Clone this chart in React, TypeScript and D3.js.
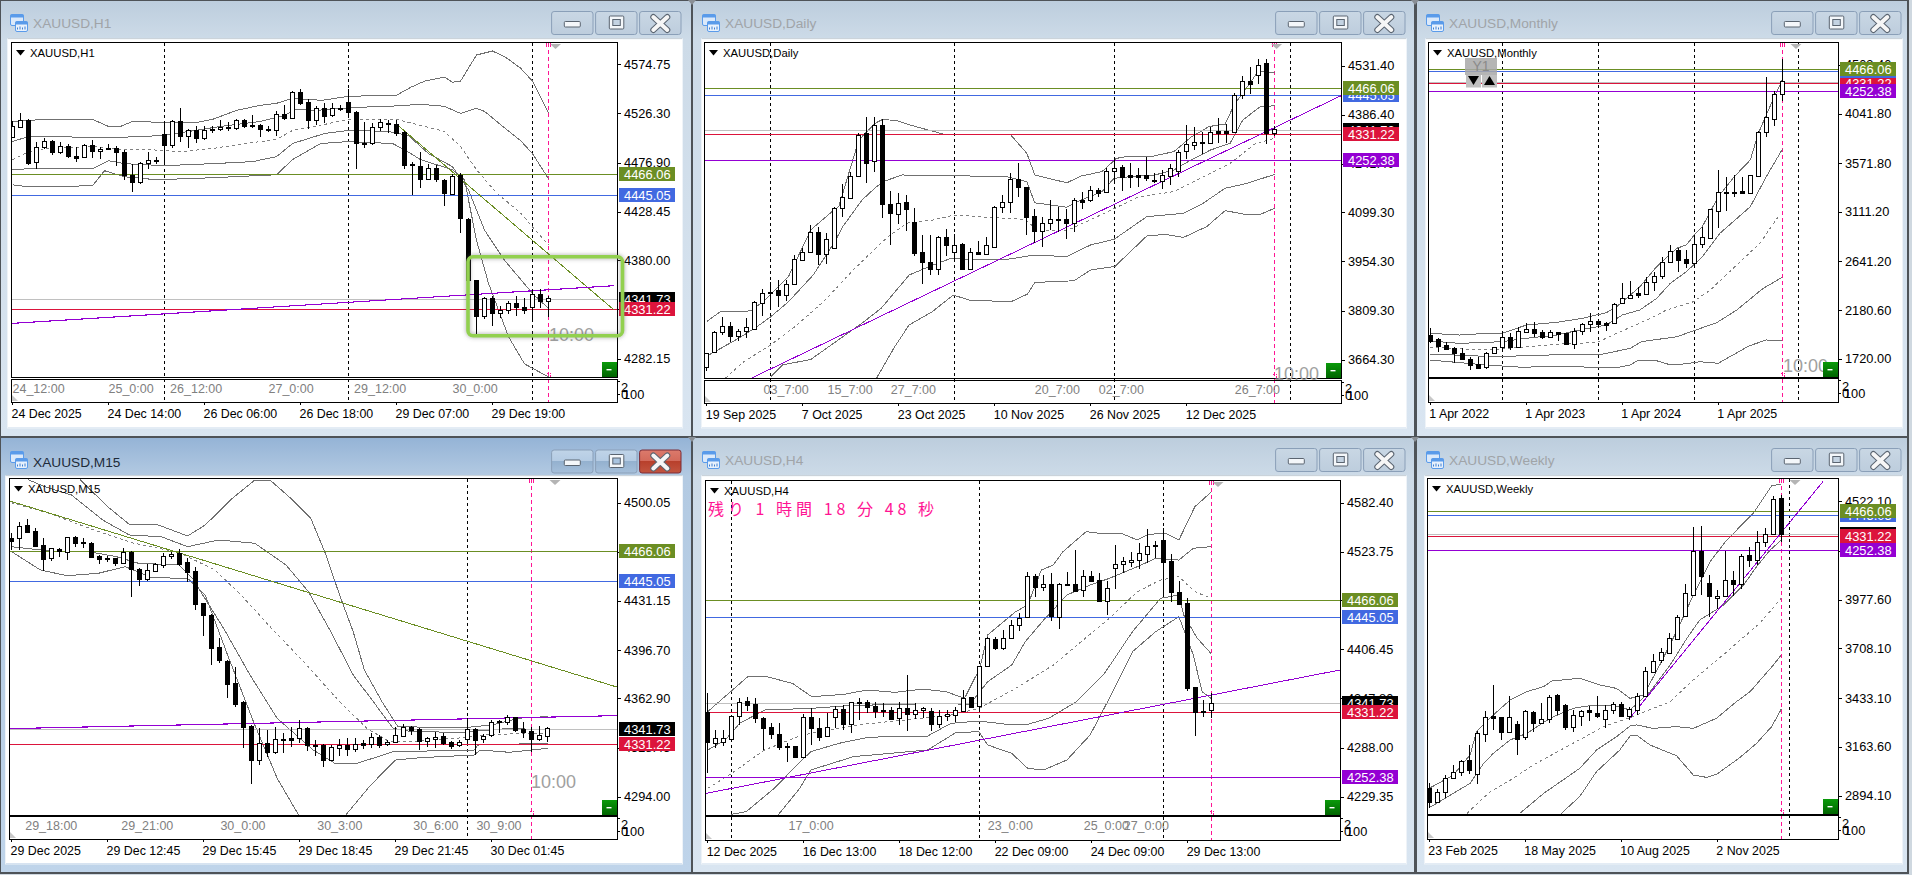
import React from "react";
import * as d3 from "d3";

type Candle = [number, number, number, number]; // open, high, low, close
type Pt = [number, number]; // bar index, price

// ---------- levels ----------
const levelOlive = 4466.06;
const levelBlue = 4445.05;
const levelGray = 4341.73;
const levelRed = 4331.22;
const levelPurple = 4252.38;

// ---------- H1 ----------
const h1Candles: Candle[] = [
[4503,4518,4503,4513],[4512,4526,4512,4519],[4519,4520,4475,4477],[4478,4498,4471,4493],[4493,4502,4491,4499],[4499,4500,4485,4488],[4488,4498,4486,4494],[4494,4495.5,4482,4484],[4484,4493,4478,4482],[4483,4496,4482,4495],
[4495,4500,4482,4489],[4489,4493,4481,4491],[4492,4495.5,4490,4491],[4492,4493.5,4474,4488],[4488,4490,4460,4465],[4465,4476,4448,4458],[4458,4478,4456,4477],[4477,4488,4471,4480],[4480,4483,4476,4479],[4505,4518,4477,4494.5],
[4494.5,4519,4492,4518],[4518,4531,4498,4503.5],[4503.5,4510,4492,4509],[4509.5,4513,4497,4502],[4502,4513,4500,4509],[4510,4513,4506,4509],[4510,4519,4508,4512],[4512,4517,4508,4511],[4511,4520,4509,4519],[4519,4520,4511,4513],
[4514,4524,4511,4513],[4514,4515,4503,4510],[4510,4513,4507,4509],[4509,4528,4504,4525],[4525,4534,4519,4521],[4521,4548,4520,4547],[4547,4550,4534,4536],[4537,4540,4510,4519],[4519,4533,4514,4531],[4531,4536,4516,4523],
[4524,4536,4522,4531],[4531.5,4534,4528,4531],[4537,4550,4523,4527],[4527,4528,4471,4497],[4497,4517,4492,4496],[4497,4516,4495,4512],[4512,4520,4508,4517],[4516,4519,4506,4515.5],[4515,4519,4504,4506],[4507,4508,4471,4475],
[4475.5,4478,4445,4474.5],[4474,4488,4451.5,4461],[4461,4476,4460,4472],[4472,4475,4458,4461],[4460,4461,4434,4446.5],[4446,4466,4445,4464],[4465,4467,4407,4422],[4421,4422,4360,4360],[4360,4360,4306,4325],[4325,4343,4322,4342],
[4342,4344,4315,4328],[4328,4335,4323,4331],[4331,4339,4327,4337],[4337,4344,4325,4334],[4334,4342,4327,4331],[4334,4350,4320,4346],[4346,4351,4333,4339],[4339,4344,4324,4342],
];
const h1Upper2: Pt[] = [[0,4518],[4,4520],[10,4520],[12,4513],[13.5,4513],[15,4518],[19,4517],[23,4517],[25,4520],[28,4529],[31,4534],[33,4536],[35,4541],[36.4,4540],[38.7,4539],[42,4543],[48,4544],[49.8,4552],[51.5,4558],[54,4562],[55,4557],[56,4558],[58,4584],[60,4588],[61.6,4582],[63.5,4571],[65,4558],[67,4526]];
const h1Upper1: Pt[] = [[0,4498],[2,4503],[13,4502],[19,4504],[22,4508],[26,4513],[31,4518],[34,4524],[35.5,4530],[38,4529],[43,4532],[47,4533],[51,4535],[54,4533],[56,4526],[58,4531],[59,4528],[61.6,4511],[63.5,4499],[65,4486],[67,4461]];
const h1Mid: Pt[] = [[0,4480],[1.5,4486],[4,4491],[10,4493],[13.5,4490],[17,4490],[21,4488],[25,4491],[29,4496],[33,4500],[35,4509],[39,4515],[42,4520],[48,4520],[51,4514],[54,4508],[56,4493],[58,4470],[60.5,4447],[63.5,4427],[67,4395]];
const h1Lower1: Pt[] = [[0,4470],[2,4471],[10,4471],[12,4479],[14,4476],[19,4474],[25,4476],[30,4478],[33,4483],[35,4496],[39,4506],[42,4509],[47,4508],[49.5,4504],[52,4486],[55,4473],[57,4450],[59,4410],[61.5,4380],[65,4347],[67,4332]];
const h1Lower2: Pt[] = [[0,4455],[2,4453],[10,4454],[11.5,4469],[14,4463],[18,4460],[25,4462],[33,4465],[35,4480],[38.5,4496],[42,4498],[47.5,4496],[49,4490],[51,4480],[55,4470],[56.5,4460],[58,4400],[59.5,4357],[62,4304],[64,4277],[67,4264]];
const h1Ticks = ["4574.75","4526.30","4476.90","4428.45","4380.00","4331.55","4282.15"];
const h1TimeLabels = ["24 Dec 2025","24 Dec 14:00","26 Dec 06:00","26 Dec 18:00","29 Dec 07:00","29 Dec 19:00"];
const h1SubLabels: [string, number][] = [["24_12:00",0],["25_0:00",12],["26_12:00",19.7],["27_0:00",32],["29_12:00",42.7],["30_0:00",55]];

// ---------- Daily ----------
const d1Candles: Candle[] = [
[3644,3685,3632,3685],[3688,3750,3685,3747],[3747,3791,3737,3765],[3765,3776,3716,3734],[3735,3754,3720,3750],[3750,3786,3727,3762],[3755,3837,3754,3835],[3832,3872,3793,3860],[3860,3894,3821,3865],[3869,3899,3819,3855],
[3855,3899,3837,3887],[3887,3973,3885,3960],[3958,3993,3956,3983],[3983,4062,3982,4042],[4040,4057,3944,3976],[3976,4037,3947,4019],[3995,4116,3993,4111],[4111,4182,4084,4143],[4141,4219,4139,4207],[4207,4332,4206,4327],
[4332,4381,4186,4245],[4251,4381,4219,4355],[4355,4373,4081,4124],[4124,4162,4003,4098],[4095,4155,4065,4125],[4129,4150,4044,4110],[4070,4111,3970,3980],[3983,4032,3887,3953],[3951,4032,3914,3931],[3933,4029,3914,4025],
[4025,4049,3970,4003],[3983,4035,3956,4002],[4005,4007,3931,3933],[3933,3993,3931,3981],[3983,4015,3973,3976],[3976,4027,3973,4002],[3998,4118,3996,4116],[4116,4150,4096,4128],[4128,4214,4096,4196],[4196,4245,4145,4173],
[4173,4173,4032,4086],[4088,4108,4007,4045],[4045,4086,3998,4068],[4068,4135,4047,4078],[4079,4114,4040,4077],[4078,4108,4020,4066],[4068,4140,4042,4135],[4134,4160,4108,4130],[4134,4177,4130,4164],[4165,4170,4143,4155],
[4158,4229,4155,4220],[4222,4258,4184,4231],[4232,4237,4162,4204],[4208,4243,4170,4204],[4209,4229,4173,4204],[4208,4263,4192,4199],[4194,4216,4184,4190],[4190,4224,4169,4209],[4207,4241,4180,4229],[4221,4283,4204,4278],
[4281,4356,4256,4299],[4298,4350,4283,4305],[4306,4337,4271,4302],[4304,4350,4300,4337],[4338,4376,4304,4332],[4338,4359,4304,4334],[4337,4450,4335,4444],[4445,4501,4432,4485],[4485,4527,4448,4477],[4505,4550,4477,4532],
[4539,4550,4300,4332],[4334,4353,4324,4345],
];
const d1Upper2: Pt[] = [[0,3777],[1.7,3806],[5.5,3808],[7,3835],[9,3880],[10.2,3909],[11.3,3963],[13,4047],[15.4,4096],[16.5,4116],[19,4312],[21,4361],[22,4373],[23.8,4369],[25.5,4356],[27.6,4342],[30,4327],[38,4327],[40,4273],[41,4209],[45,4186],[46.8,4206],[49.4,4219],[51.2,4258],[52.9,4265],[55.5,4263],[58.4,4278],[60.5,4320],[62.8,4352],[64.8,4359],[66,4420],[67,4450],[68.9,4514],[71,4511]];
const d1Upper1: Pt[] = [[0,3675],[1.4,3693],[4.3,3732],[6,3757],[8,3791],[10.2,3835],[13.3,3914],[16,4012],[17,4057],[19.4,4135],[21,4170],[22,4189],[24.4,4209],[30.5,4207],[37.5,4204],[40,4189],[41,4127],[45,4114],[46.8,4135],[49.4,4160],[50.9,4199],[52.9,4204],[56,4209],[58.4,4224],[60.5,4253],[63,4283],[65.4,4302],[67,4371],[69.2,4411],[71,4413]];
const d1Mid: Pt[] = [[2.3,3609],[4.6,3658],[8,3708],[11.3,3767],[14.8,3840],[18.3,3929],[22.4,4022],[25,4067],[28.2,4076],[31,4091],[35.2,4084],[39.8,4078],[41.3,4047],[45,4045],[47.4,4071],[50.6,4106],[53.8,4143],[58.4,4160],[61.3,4194],[65.4,4243],[68.6,4302],[71,4317]];
const d1Lower1: Pt[] = [[8,3614],[9.5,3649],[13,3665],[19.4,3772],[21.8,3816],[25.3,3914],[27.6,3937],[30.5,3963],[33.4,3960],[37.5,3960],[41,3973],[45,3968],[48,4003],[50.9,4019],[55,4086],[59.6,4096],[62,4125],[64.8,4170],[67.5,4184],[71,4211]];
const d1Lower2: Pt[] = [[21.2,3609],[23.5,3703],[25.3,3767],[28.2,3806],[30.8,3855],[32.8,3840],[38,3835],[40.1,3858],[41,3892],[45.9,3897],[48,3929],[51,3939],[55,4029],[57.3,4034],[59.6,4025],[62.5,4057],[64.8,4104],[67.2,4093],[69.2,4093],[71,4111]];
const d1Ticks = ["4531.40","4386.40","4241.40","4099.30","3954.30","3809.30","3664.30"];
const d1TimeLabels = ["19 Sep 2025","7 Oct 2025","23 Oct 2025","10 Nov 2025","26 Nov 2025","12 Dec 2025"];
const d1SubLabels: [string, number][] = [["03_7:00",7.1],["15_7:00",15.1],["27_7:00",23],["20_7:00",41],["02_7:00",49],["26_7:00",66]];

// ---------- Monthly ----------
const mnCandles: Candle[] = [
[1944,2007,1865,1891],[1903,1913,1786,1840],[1846,1881,1802,1808],[1821,1834,1676,1770],[1770,1818,1707,1714],[1714,1739,1612,1660],[1669,1732,1628,1635],[1638,1786,1619,1770],[1770,1834,1764,1827],[1834,1966,1796,1928],
[1928,1966,1802,1834],[1834,2017,1818,1979],[1976,2055,1960,2001],[1998,2071,1922,1960],[1970,1992,1903,1922],[1922,1992,1913,1970],[1970,1973,1891,1954],[1960,1960,1849,1856],[1856,2007,1815,1985],[1985,2061,1944,2045],
[2045,2149,1976,2074],[2074,2093,2007,2045],[2055,2071,1985,2042],[2055,2244,2048,2238],[2244,2434,2238,2292],[2292,2456,2282,2326],[2339,2396,2292,2326],[2330,2491,2323,2450],[2450,2544,2361,2507],[2507,2687,2478,2639],
[2639,2797,2630,2743],[2750,2765,2544,2655],[2661,2750,2582,2630],[2630,2892,2592,2803],[2803,2971,2772,2870],[2860,3138,2857,3135],[3122,3508,2961,3296],[3299,3445,3122,3293],[3303,3461,3255,3293],[3306,3445,3280,3293],
[3293,3457,3280,3457],[3454,3877,3445,3865],[3865,4386,3824,4007],[3988,4260,3925,4225],[4225,4557,4165,4348],
];
const mnUpper2: Pt[] = [[0,1960],[3.7,1944],[7,1960],[9,1960],[12,2039],[15.8,2064],[19,2102],[22,2156],[23.3,2213],[26.2,2402],[28.3,2592],[30.8,2766],[32,2797],[33,2892],[34,2971],[36,3255],[38,3445],[40,3603],[41,3855],[42,4029],[43,4203],[44,4361]];
const mnUpper1: Pt[] = [[0,1887],[3.7,1865],[9,1881],[12,1913],[15.8,1944],[18.7,1992],[22,2039],[24,2134],[26.2,2181],[28.3,2292],[30,2434],[32,2544],[34,2686],[36.2,2908],[40,3160],[42,3445],[44,3704]];
const mnMid: Pt[] = [[0,1827],[7,1802],[11.2,1827],[16.2,1859],[20.8,1872],[23.3,1960],[27.5,2102],[29.5,2181],[32.9,2260],[35,2371],[38.3,2608],[41.2,2813],[43.5,3066]];
const mnLower1: Pt[] = [[0,1764],[7.9,1739],[15,1755],[21.6,1764],[25,1818],[26.4,1881],[30.8,1928],[35.8,2061],[38.3,2181],[41.6,2386],[44,2491]];
const mnLower2: Pt[] = [[0,1707],[7,1660],[11.6,1638],[15.8,1650],[20.4,1638],[23.3,1635],[25,1660],[26,1707],[28,1707],[29.8,1666],[31.6,1669],[33.7,1691],[36,1676],[39.8,1840],[42,1897],[44,1891]];
const mnTicks = ["4503.40","4041.80","3571.80","3111.20","2641.20","2180.60","1720.00"];
const mnTimeLabels = ["1 Apr 2022","1 Apr 2023","1 Apr 2024","1 Apr 2025"];

// ---------- M15 ----------
const m15Candles: Candle[] = [
[4475.1,4478.6,4466.9,4473.2],[4475.1,4486.3,4466.9,4483.9],[4484.4,4488.4,4478.6,4479.7],[4480.2,4482.1,4469.2,4469.9],[4470.4,4475.1,4452.2,4460.6],[4461,4468.5,4459.2,4468.1],[4467.4,4468.1,4462.2,4466.4],[4465.7,4476.2,4459.9,4475.8],[4475.8,4476.7,4469.2,4471.8],[4472.3,4475.5,4468.1,4471.6],
[4471.8,4472.3,4461.5,4462.2],[4462.7,4463.4,4457.1,4460.3],[4461.3,4462.9,4458.7,4460.6],[4461,4461.5,4455.9,4458],[4458,4468.1,4457.5,4465.2],[4465.7,4466.2,4434.2,4453.3],[4453.3,4454,4441.9,4446.8],[4446.8,4456.8,4445.2,4452.9],[4452.4,4457.5,4451.2,4456.8],[4456.4,4464.5,4454.5,4462.4],
[4462.4,4465.7,4460.6,4464.1],[4464.5,4467.4,4455.9,4457.1],[4458.5,4461,4444.7,4451.7],[4452.2,4455.2,4424.8,4429.1],[4429.5,4430,4406.6,4421.3],[4421.3,4421.8,4386.3,4398.4],[4398.9,4405,4387.5,4389.6],[4389.1,4389.6,4362.9,4373.2],[4373.7,4384.9,4357.1,4359.2],[4360.6,4361.1,4328.4,4343],
[4343.5,4344,4302.9,4319.7],[4319.7,4341.9,4316.2,4331.4],[4331.4,4340.7,4322,4325.5],[4325.5,4343,4323.7,4334.4],[4334.4,4338.4,4324.4,4333.7],[4335.1,4343,4329.1,4334],[4334.9,4347.7,4331.4,4341.9],[4342.4,4343,4326,4330.2],[4330.2,4333.7,4322.7,4329.3],[4330.2,4330.7,4315,4319.9],
[4319.9,4330.2,4319.7,4328.6],[4328.4,4334.4,4322.7,4330.2],[4330.2,4334.9,4322.7,4327.4],[4327.4,4334.9,4325.5,4330.9],[4331.4,4333.7,4327.4,4330.5],[4330.9,4338.4,4327.9,4335.6],[4335.6,4337.2,4328.4,4330.2],[4330.7,4333.7,4329.8,4332.6],[4332.6,4343,4331.4,4337],[4336.8,4344.7,4336.8,4342.6],
[4342.8,4343.8,4337.2,4340.7],[4341.2,4342.4,4326.7,4333.3],[4333.3,4336.1,4329.1,4334.9],[4334.4,4339.6,4328.4,4336.1],[4336.3,4338.4,4330.2,4331.4],[4332.1,4333,4327.4,4329.8],[4330,4333.7,4329.1,4332.1],[4334.4,4348.9,4331.4,4341.2],[4341.2,4342.4,4323.2,4333.7],[4334.2,4338.2,4331.4,4336.8],
[4337.2,4347.7,4336.1,4346.1],[4346.1,4347.7,4338.4,4347],[4346.6,4351.2,4344,4349.6],[4349.6,4350.1,4339.1,4340.7],[4341.5,4346.6,4334.9,4339.6],[4339.8,4343,4325.1,4334.4],[4334.4,4343.5,4333,4337.2],[4336.8,4343,4332.1,4341.9],
];
const m15Upper2: Pt[] = [[6.9,4533.5],[8.6,4515.9],[12,4497.3],[14.7,4484.9],[18.1,4484.9],[22,4476.7],[24.2,4484.4],[27.6,4503.1],[30.4,4515.9],[32.3,4515.9],[34.9,4503.1],[37.4,4489.1],[39.3,4463.4],[41,4435.3],[42.7,4409.6],[44.1,4382.8],[46.3,4360.6],[48.3,4343],[56.6,4342.4],[60,4344.2],[63.4,4349],[67,4350.1]];
const m15Upper1: Pt[] = [[0,4525],[2.2,4515.9],[4.1,4511.3],[7.5,4505.4],[11.4,4487.9],[14.7,4477.4],[18.7,4476.2],[22,4469.2],[25.9,4473.9],[30.4,4471.6],[34.3,4456.4],[37.1,4437.7],[39.9,4409.6],[42.7,4379.3],[44.9,4362.9],[47.7,4341.9],[49.9,4339.6],[56.1,4339.1],[60,4340.7],[62.2,4341.9],[67,4340.7]];
const m15Mid: Pt[] = [[0,4500],[4.7,4492.6],[9.7,4482.1],[15.3,4471.6],[20.9,4465.2],[25.4,4452.9],[28.7,4435.3],[32.1,4414.3],[36.5,4388.6],[41,4360.6],[44.4,4341.9],[47.2,4332.6],[51.1,4333],[56.6,4335.4],[60,4337.7],[67,4338.4]];
const m15Lower1: Pt[] = [[0,4469.2],[4.7,4466.2],[9.7,4465.7],[13.1,4462.2],[15.9,4457.5],[20.9,4456.4],[22.6,4447],[26.5,4412],[29.8,4379.3],[33.2,4348.9],[37.7,4326.7],[40.4,4317.4],[43.2,4317.4],[47.7,4325.5],[57.8,4326.7],[58.3,4330.2],[67,4331.4]];
const m15Lower2: Pt[] = [[0,4465.7],[3.6,4452.9],[6.9,4448.9],[10.8,4450.5],[14.2,4455.2],[17.5,4447.5],[22,4447],[24.2,4435.3],[27,4393.3],[30.4,4344.2],[33.2,4306.9],[36,4280],[41.6,4280],[44.9,4302.2],[48,4319.7],[51.1,4321.3],[57.8,4323.2],[58.6,4326.7],[62.2,4325.1],[67,4327.9]];
const m15Ticks = ["4500.05","4465.40","4431.15","4396.70","4362.90","4328.45","4294.00"];
const m15TimeLabels = ["29 Dec 2025","29 Dec 12:45","29 Dec 15:45","29 Dec 18:45","29 Dec 21:45","30 Dec 01:45"];
const m15SubLabels: [string, number][] = [["29_18:00",1.7],["29_21:00",13.7],["30_0:00",26.1],["30_3:00",38.2],["30_6:00",50.2],["30_9:00",58.1]];

// ---------- H4 ----------
const h4Candles: Candle[] = [
[4331.4,4353.4,4257.4,4295.4],[4294.2,4309.4,4287.4,4299.4],[4295.4,4309.4,4290.6,4299.4],[4298.2,4327.4,4297.4,4326.6],[4326.6,4347.4,4315.4,4343.4],[4344.2,4349.4,4332.2,4339.4],[4340.2,4348.2,4317.4,4323.4],[4323.4,4325.4,4285.4,4312.2],[4312.6,4317.4,4298.6,4304.6],[4304.6,4317.4,4285.4,4289.4],
[4290.6,4293.4,4271.4,4289.8],[4289.8,4290.6,4275.4,4277.4],[4277.4,4328.2,4275.4,4324.6],[4324.6,4335.4,4291.4,4311.4],[4311.4,4323.4,4296.2,4301.4],[4302.6,4329.4,4301.4,4313.4],[4325.4,4338.6,4311.4,4334.2],[4334.2,4339.4,4309.4,4317],[4317,4343.4,4306.2,4342.6],[4343,4348.2,4321.4,4342.2],
[4342.6,4345.4,4329.4,4337.4],[4337.8,4343.4,4323.4,4331.8],[4333,4341.4,4325.4,4331.8],[4333,4337.4,4321.4,4322.6],[4323.4,4342.6,4315.4,4335.4],[4336.2,4375.4,4308.2,4328.2],[4328.2,4341.4,4322.6,4333.4],[4333,4337.4,4323.4,4335.4],[4332.2,4335.4,4308.2,4316.2],[4316.2,4333.4,4312.2,4326.6],
[4325.8,4333.4,4320.2,4328.2],[4327.4,4337.4,4318.6,4333],[4332.2,4357.4,4331.4,4348.2],[4348.6,4349.4,4336.2,4337.4],[4338.6,4386.3,4333.4,4385.9],[4385.9,4420.7,4384.6,4419.5],[4418.7,4420.7,4405.5,4408.3],[4408.3,4429.5,4405.5,4419.5],[4419.5,4441.5,4418.7,4435.1],[4435.1,4449.5,4428.3,4443.5],
[4445.5,4498.7,4444.7,4493.9],[4493.9,4496.3,4469.5,4481.5],[4481.5,4495.5,4476.3,4484.3],[4484.3,4497.5,4440.7,4446.3],[4445.5,4485.5,4430.3,4484.3],[4484.7,4499.5,4482.7,4483.9],[4484.7,4525.6,4475.5,4476.7],[4477.9,4501.5,4469.5,4493.9],[4493.9,4500.3,4487.5,4488.7],[4489.5,4497.5,4463.5,4464.7],
[4464.7,4488.7,4447.5,4479.5],[4504.3,4531.6,4478.7,4508.3],[4508.3,4517.5,4497.5,4511.9],[4511.5,4523.5,4505.5,4513.9],[4513.9,4533.6,4502.7,4521.5],[4521.2,4550.8,4509.5,4530.8],[4530.8,4536.4,4515.5,4531.6],[4537.2,4551.6,4469.5,4511.5],[4511.9,4520.3,4463.5,4474.7],[4474.7,4488.3,4459.5,4461.1],
[4461.5,4467.5,4356.2,4359.4],[4360.6,4361.4,4302.2,4331.4],[4331.8,4345.4,4325.4,4331],[4333.8,4353.4,4323.4,4341.4],
];
const h4Upper2: Pt[] = [[0,4331.4],[1.9,4347.4],[5,4373.4],[7.4,4373.4],[10.6,4365.4],[13,4349.4],[17,4352.2],[19.9,4357.4],[23.4,4354.6],[26.9,4358.6],[29.8,4355.4],[32.1,4347.4],[34,4383.4],[35,4423.5],[38.5,4451.5],[40,4459.5],[41.7,4501.5],[43.2,4507.5],[44.4,4523.5],[47.3,4547.6],[49,4545.6],[51.9,4544.8],[53.7,4537.6],[55.1,4544.4],[57.2,4545.6],[58.9,4537.6],[60.9,4577.6],[62.9,4594.8]];
const h4Upper1: Pt[] = [[0,4285.4],[2.2,4297.4],[4,4317.4],[7.1,4333.4],[12.9,4335.4],[17.6,4338.6],[23.4,4340.2],[30.4,4341.4],[32.7,4339.4],[35,4367.4],[38,4387.4],[39.7,4415.5],[42,4441.5],[44.9,4471.5],[47.8,4483.5],[50.2,4491.5],[53.7,4505.5],[56,4515.5],[58.9,4513.5],[60.7,4527.6],[62.9,4529.6]];
const h4Mid: Pt[] = [[0,4239.3],[3,4257.4],[7.1,4285.4],[11.8,4303.4],[15.3,4309.4],[19.3,4316.2],[24.6,4321.4],[30.4,4327.4],[33.9,4335.4],[38.5,4359.4],[43.2,4387.4],[46.7,4415.5],[50.2,4443.5],[53.7,4475.5],[56.6,4489.5],[58.9,4493.5],[60.9,4475.5],[62.9,4467.5]];
const h4Lower1: Pt[] = [[2.9,4208],[4.8,4211.3],[8.3,4239.3],[11.8,4273.4],[12.9,4283.4],[16.4,4293.4],[19.9,4300.2],[23.4,4302.2],[27.5,4302.2],[30.4,4317.4],[33.9,4320.2],[37.4,4316.2],[39.7,4315.4],[42.6,4323.4],[46.1,4343.4],[49.6,4377.4],[53.1,4427.5],[56.6,4467.5],[58.9,4471.5],[59.5,4447.5],[61.2,4419.5],[62.9,4401.5]];
const h4Lower2: Pt[] = [[8.8,4207.3],[11.5,4239.3],[12.9,4261.4],[18.2,4277.4],[27.5,4285.4],[31,4306.2],[33.9,4307.4],[35,4291.4],[38,4281.4],[40,4263.4],[42,4261.4],[44.9,4273.4],[47.8,4303.4],[50.2,4347.4],[53.1,4403.5],[56,4427.5],[58.9,4445.5],[60.7,4399.5],[61.8,4355.4],[62.9,4347.4]];
const h4Ticks = ["4582.40","4523.75","4465.10","4406.45","4347.80","4288.00","4229.35"];
const h4TimeLabels = ["12 Dec 2025","16 Dec 13:00","18 Dec 12:00","22 Dec 09:00","24 Dec 09:00","29 Dec 13:00"];
const h4SubLabels: [string, number][] = [["17_0:00",10.1],["23_0:00",35],["25_0:00",47],["27_0:00",52]];

// ---------- Weekly ----------
const w1Candles: Candle[] = [
[2938,2962,2828,2861],[2857,2931,2854,2916],[2912,3008,2879,2990],[2990,3064,2986,3027],[3027,3091,3005,3088],[3090,3174,3012,3038],[3012,3252,2959,3239],[3233,3362,3193,3327],[3334,3506,3257,3322],[3327,3331,3202,3244],
[3244,3445,3239,3327],[3288,3307,3119,3206],[3220,3368,3202,3362],[3355,3362,3248,3294],[3298,3408,3294,3316],[3316,3451,3294,3438],[3449,3454,3340,3369],[3395,3399,3257,3276],[3276,3368,3248,3338],[3336,3369,3279,3360],
[3366,3392,3307,3355],[3349,3445,3322,3336],[3320,3395,3270,3366],[3366,3414,3345,3399],[3399,3410,3329,3334],[3334,3386,3312,3371],[3369,3460,3340,3447],[3447,3604,3441,3585],[3580,3677,3576,3640],[3646,3709,3626,3686],
[3685,3792,3681,3764],[3758,3893,3755,3884],[3889,4064,3884,4013],[4003,4381,4000,4249],[4249,4387,4003,4110],[4068,4114,3884,4000],[3985,4031,3926,4000],[3998,4249,3994,4084],[4084,4136,3998,4066],[4066,4228,4037,4217],
[4223,4271,4160,4199],[4195,4357,4169,4298],[4298,4376,4271,4339],[4339,4551,4335,4532],[4540,4556,4298,4339],
];
const w1Upper2: Pt[] = [[0,2935],[3,3008],[5.1,3119],[5.9,3248],[8,3340],[10.1,3423],[12.2,3469],[14.3,3497],[15.3,3528],[18.8,3543],[21.3,3506],[23.4,3487],[25.1,3432],[26.8,3451],[28.8,3616],[30.9,3801],[33,4003],[35.1,4188],[37.2,4308],[40.5,4455],[42.8,4608],[44,4615]];
const w1Upper1: Pt[] = [[0,2828],[3,2907],[5.1,2962],[6.8,3073],[8,3128],[10.1,3202],[12.2,3239],[15.1,3322],[18,3377],[20.1,3392],[23,3392],[25.1,3368],[27.6,3469],[30.1,3616],[32.2,3764],[33.8,3865],[36.8,3948],[39.3,4059],[40.9,4160],[42.6,4252],[44,4307]];
const w1Mid: Pt[] = [[4.7,2796],[7.6,2916],[10.5,2990],[13,3064],[17.2,3165],[21.8,3276],[25.1,3325],[30.1,3414],[33,3534],[37.2,3690],[41.3,3847],[44,3985]];
const w1Lower1: Pt[] = [[11.3,2796],[14.3,2907],[18.8,3045],[20.9,3146],[23.4,3220],[25.1,3279],[25.9,3285],[28,3266],[30.9,3276],[33,3266],[35.9,3322],[38.4,3414],[40.1,3469],[43,3616],[44,3672]];
const w1Lower2: Pt[] = [[16.5,2796],[18.8,2889],[20.9,3027],[23.8,3146],[25.1,3224],[25.9,3229],[27.6,3174],[30.9,3115],[33,3008],[34.7,2995],[35.9,3012],[38.8,3104],[40.9,3183],[42.8,3276],[44,3373]];
const w1Ticks = ["4522.10","4247.60","3977.60","3708.10","3433.10","3163.60","2894.10"];
const w1TimeLabels = ["23 Feb 2025","18 May 2025","10 Aug 2025","2 Nov 2025"];

const countdownText = "残り 1 時間 18 分 48 秒";

const COL = { olive: "#6b8e23", blue: "#4169e1", gray: "#c0c0c0", red: "#dc143c", purple: "#9400d3", pink: "#ff1493", band: "#707070" };
const FONT = "'Liberation Sans', Arial, sans-serif";

interface Trend { from: Pt; to: Pt; color: string; width: number }
interface PanelCfg {
  title: string; active?: boolean;
  win: [number, number, number, number];
  client: [number, number, number, number];
  x0: number; x1: number; top: number; bottom: number; subTop: number; subBottom: number;
  firstX: number;
  yPrices: [number, number]; yPix: [number, number];
  candles: Candle[]; bands: Pt[][];
  ticks: string[]; timeLabels: string[]; subLabels: [string, number][];
  separators: number[]; pinkBar: number; trends: Trend[]; levels: number[];
  triX: number; clockAt?: [number, number];
}

const panels: PanelCfg[] = [
  { title: "XAUUSD,H1", win: [0, 0, 692, 437], client: [8, 38, 682, 427], x0: 12, x1: 617, top: 43, bottom: 377, subTop: 380, subBottom: 402, firstX: 12.5,
    yPrices: [4574.75, 4282.15], yPix: [64.33, 358.67], candles: h1Candles, bands: [h1Upper2, h1Upper1, h1Mid, h1Lower1, h1Lower2], ticks: h1Ticks, timeLabels: h1TimeLabels, subLabels: h1SubLabels,
    separators: [19, 42, 65], pinkBar: 67, levels: [levelOlive, levelBlue, levelGray, levelRed],
    trends: [{ from: [47.9, 4516], to: [75.2, 4330.5], color: "#6b8e23", width: 1 }, { from: [-0.1, 4317.2], to: [75.2, 4354.7], color: COL.purple, width: 1.1 }],
    triX: 555.5, clockAt: [549, 341] },
  { title: "XAUUSD,Daily", win: [692, 0, 1415, 437], client: [702, 38, 1406, 427], x0: 705, x1: 1341, top: 43, bottom: 378, subTop: 381, subBottom: 403, firstX: 706.8,
    yPrices: [4531.4, 3664.3], yPix: [65.67, 359.67], candles: d1Candles, bands: [d1Upper2, d1Upper1, d1Mid, d1Lower1, d1Lower2], ticks: d1Ticks, timeLabels: d1TimeLabels, subLabels: d1SubLabels,
    separators: [8, 31, 51, 73], pinkBar: 71, levels: [levelOlive, levelBlue, levelGray, levelRed, levelPurple],
    trends: [{ from: [5.5, 3609], to: [79.3, 4443], color: COL.purple, width: 1 }],
    triX: 1276.6, clockAt: [1274, 380] },
  { title: "XAUUSD,Monthly", win: [1416, 0, 1908, 437], client: [1426, 38, 1902, 427], x0: 1429, x1: 1838, top: 43, bottom: 377, subTop: 379, subBottom: 402, firstX: 1430.3,
    yPrices: [4041.8, 1720], yPix: [113.67, 358.67], candles: mnCandles, bands: [mnUpper2, mnUpper1, mnMid, mnLower1, mnLower2], ticks: mnTicks, timeLabels: mnTimeLabels, subLabels: [],
    separators: [9, 21, 33, 46], pinkBar: 44, levels: [levelGray, levelOlive, levelBlue, levelRed, levelPurple], trends: [],
    triX: 1796, clockAt: [1783, 372] },
  { title: "XAUUSD,M15", active: true, win: [0, 437, 692, 873], client: [6, 475, 682, 863], x0: 10, x1: 617, top: 479, bottom: 815, subTop: 817, subBottom: 839, firstX: 11.6,
    yPrices: [4500.05, 4294], yPix: [502.67, 796.67], candles: m15Candles, bands: [m15Upper2, m15Upper1, m15Mid, m15Lower1, m15Lower2], ticks: m15Ticks, timeLabels: m15TimeLabels, subLabels: m15SubLabels,
    separators: [57], pinkBar: 65, levels: [levelOlive, levelBlue, levelGray, levelRed],
    trends: [{ from: [-0.2, 4501.2], to: [75.8, 4370.6], color: "#6b8e23", width: 1 }, { from: [-0.2, 4341.7], to: [75.8, 4350.8], color: COL.purple, width: 1.1 }],
    triX: 555, clockAt: [531, 788] },
  { title: "XAUUSD,H4", win: [692, 437, 1415, 873], client: [702, 475, 1406, 863], x0: 706, x1: 1340, top: 481, bottom: 815, subTop: 817, subBottom: 840, firstX: 707.7,
    yPrices: [4582.4, 4229.35], yPix: [502.67, 796.67], candles: h4Candles, bands: [h4Upper2, h4Upper1, h4Mid, h4Lower1, h4Lower2], ticks: h4Ticks, timeLabels: h4TimeLabels, subLabels: h4SubLabels,
    separators: [3, 34, 57], pinkBar: 63, levels: [levelOlive, levelBlue, levelGray, levelRed, levelPurple],
    trends: [{ from: [-0.2, 4233.3], to: [79, 4381.4], color: COL.purple, width: 1 }],
    triX: 1218 },
  { title: "XAUUSD,Weekly", win: [1416, 437, 1908, 873], client: [1425, 475, 1902, 863], x0: 1428, x1: 1838, top: 479, bottom: 814, subTop: 816, subBottom: 839, firstX: 1429.3,
    yPrices: [3977.6, 2894.1], yPix: [599.67, 795.67], candles: w1Candles, bands: [w1Upper2, w1Upper1, w1Mid, w1Lower1, w1Lower2], ticks: w1Ticks, timeLabels: w1TimeLabels, subLabels: [],
    separators: [45], pinkBar: 44, levels: [levelOlive, levelBlue, levelGray, levelRed, levelPurple],
    trends: [{ from: [25.1, 3325], to: [49.2, 4630], color: COL.purple, width: 1 }],
    triX: 1795 },
];

const levelStyle: Record<string, { fill: string; line: string }> = {
  [levelGray]: { fill: "#000000", line: COL.gray },
  [levelRed]: { fill: COL.red, line: COL.red },
  [levelBlue]: { fill: COL.blue, line: COL.blue },
  [levelOlive]: { fill: COL.olive, line: COL.olive },
  [levelPurple]: { fill: COL.purple, line: COL.purple },
};
const labelOrder = [levelGray, levelRed, levelBlue, levelOlive, levelPurple];

function WindowFrame({ p }: { p: PanelCfg }) {
  const [x0, y0, x1, y1] = p.win;
  const [cx0, cy0, cx1, cy1] = p.client;
  const btnW = 41.4, btnH = 23, gap = 2.6, by = y0 + 11.5 + (p.active ? 1.5 : 0);
  const bx = [cx1 - 1 - btnW * 3 - gap * 2, cx1 - 1 - btnW * 2 - gap, cx1 - 1 - btnW];
  const xPath = (c: number, d: number) => `M${c - 7} ${d - 6}L${c + 7} ${d + 7}M${c + 7} ${d - 6}L${c - 7} ${d + 7}`;
  return (
    <g>
      <rect x={x0} y={y0} width={x1 - x0} height={y1 - y0} fill={`url(#${p.active ? "frameActive" : "frameIdle"})`} />
      <rect x={cx0} y={cy0} width={cx1 - cx0} height={cy1 - cy0} fill="#ffffff" />
      <line x1={cx0} x2={cx1} y1={cy0 + 0.5} y2={cy0 + 0.5} stroke="#a8b2bc" />
      <rect x={cx0 - 0.5} y={cy0 + 1} width={cx1 - cx0 + 1} height={cy1 - cy0} fill="none" stroke="#eef3f8" />
      <rect x={x0} y={y0} width={x1 - x0} height={y1 - y0} fill="none" stroke="#4e5358" strokeWidth={2} />
      <g transform={`translate(${x0 + 10},${y0 + 14})`}>
        <rect x={0.5} y={0.5} width={13} height={11} rx={1.5} fill="#dbe9fa" stroke="#5a9bea" />
        <rect x={0.5} y={0.5} width={13} height={3} fill="#5a9bea" />
        <rect x={5.5} y={7.5} width={12} height={10} rx={1.5} fill="#e8f1fc" stroke="#5a9bea" />
        <rect x={5.5} y={7.5} width={12} height={3} fill="#5a9bea" />
        <path d="M7.5 15.5v-2M10 15.5v-3M12.5 15.5v-2M15 15.5v-3" stroke="#3f7fd0" />
      </g>
      <text x={x0 + 33} y={y0 + (p.active ? 29.5 : 28)} fontFamily={FONT} fontSize={13.7} fill={p.active ? "#1d2a38" : "#a0a4a8"}>{p.title}</text>
      {bx.map((bX, i) => {
        const closeRed = p.active && i === 2;
        const cxb = bX + btnW / 2, cyb = by + btnH / 2;
        return (
          <g key={i}>
            <rect x={bX} y={by} width={btnW} height={btnH} rx={2.5} fill={closeRed ? "url(#closeRed)" : p.active ? "url(#btnActive)" : "url(#btn)"} stroke={closeRed ? "#7a2c38" : "#8a9fb8"} />
            {i === 0 && <rect x={cxb - 8} y={cyb - 1.5} width={16} height={5.5} rx={1} fill="#f4f7fa" stroke="#5a6470" />}
            {i === 1 && <g><rect x={cxb - 7} y={cyb - 7} width={14.5} height={13} rx={1} fill="#f4f7fa" stroke="#5a6470" /><rect x={cxb - 3.5} y={cyb - 3.5} width={7.5} height={6} fill={p.active ? "#a9c4e0" : "#c4d3e2"} stroke="#5a6470" /></g>}
            {i === 2 && <g><path d={xPath(cxb, cyb)} stroke="#5a6470" strokeWidth={6} strokeLinecap="round" /><path d={xPath(cxb, cyb)} stroke="#f6f6f6" strokeWidth={4} strokeLinecap="round" /></g>}
          </g>
        );
      })}
    </g>
  );
}

function Chart({ p, id }: { p: PanelCfg; id: number }) {
  const x = d3.scaleLinear().domain([0, 1]).range([p.firstX, p.firstX + 8]);
  const y = d3.scaleLinear().domain(p.yPrices).range(p.yPix);
  const line = d3.line<Pt>().x(d => x(d[0])).y(d => y(d[1]));
  const clip = `clip${id}`;
  const h = p.bottom - p.top;
  const tickFont = { fontFamily: FONT, fontSize: 12.8 } as const;
  const timeFont = { fontFamily: FONT, fontSize: 12.4 } as const;
  const axisX = p.x1 + 7;
  const px = (i: number) => Math.floor(x(i)) + 0.5;
  const pinkX = px(p.pinkBar);
  return (
    <g>
      <defs><clipPath id={clip}><rect x={p.x0} y={p.top} width={p.x1 - p.x0} height={h} /></clipPath></defs>
      {p.separators.map(s => (
        <line key={s} x1={px(s)} x2={px(s)} y1={p.top} y2={p.subBottom} stroke="#000" strokeDasharray="3 3" shapeRendering="crispEdges" />
      ))}
      <line x1={pinkX} x2={pinkX} y1={p.top} y2={p.subBottom} stroke={COL.pink} strokeDasharray="4 3" shapeRendering="crispEdges" />
      <g clipPath={`url(#${clip})`}>
        {p.bands.map((b, i) => (
          <path key={i} d={line(b) ?? ""} fill="none" stroke={i === 2 ? "#808080" : COL.band} strokeWidth={1} strokeDasharray={i === 2 ? "3 3" : undefined} shapeRendering="crispEdges" />
        ))}
        {p.levels.map(l => (
          <line key={l} x1={p.x0} x2={p.x1} y1={Math.round(y(l)) + 0.5} y2={Math.round(y(l)) + 0.5} stroke={levelStyle[l].line} shapeRendering="crispEdges" />
        ))}
        {p.trends.map((t, i) => (
          <line key={i} x1={x(t.from[0])} x2={x(t.to[0])} y1={y(t.from[1])} y2={y(t.to[1])} stroke={t.color} strokeWidth={t.width} shapeRendering="crispEdges" />
        ))}
        {p.candles.map((c, i) => {
          const cx = Math.floor(x(i));
          const [o, hi, lo, cl] = c;
          const up = cl >= o;
          const top = Math.round(y(Math.max(o, cl)));
          const bot = Math.round(y(Math.min(o, cl)));
          return (
            <g key={i} shapeRendering="crispEdges">
              <line x1={cx + 0.5} x2={cx + 0.5} y1={y(hi)} y2={y(lo)} stroke="#000" />
              {up ? (
                <rect x={cx - 1.5} y={top + 0.5} width={4} height={Math.max(bot - top, 1)} fill="#fff" stroke="#000" />
              ) : (
                <rect x={cx - 2} y={top} width={5} height={Math.max(bot - top + 1, 2)} fill="#000" />
              )}
            </g>
          );
        })}
      </g>
      <path d={`M${pinkX - 2} ${p.top}v4M${pinkX + 2} ${p.top}v4`} stroke={COL.pink} fill="none" shapeRendering="crispEdges" />
      <path d={`M${pinkX - 2} ${p.bottom - 4}h4v4`} stroke={COL.pink} fill="none" strokeDasharray="2 1" shapeRendering="crispEdges" />
      <rect x={p.x0 - 0.5} y={p.top - 0.5} width={p.x1 - p.x0 + 1} height={h + 1} fill="none" stroke="#000" shapeRendering="crispEdges" />
      <rect x={p.x0 - 0.5} y={p.subTop - 0.5} width={p.x1 - p.x0 + 1} height={p.subBottom - p.subTop + 1} fill="none" stroke="#000" shapeRendering="crispEdges" />
      <path d={`M${p.x0} ${p.subBottom - 1}V${p.subBottom - 7}L${p.x0 + 6} ${p.subBottom - 1}Z`} fill="#c8c8c8" />
      <path d={`M${p.triX - 5.5} ${p.top + 1}H${p.triX + 5.5}L${p.triX} ${p.top + 6}Z`} fill="#b4b4b4" />
      <path d={`M${p.x0 + 4} ${p.top + 7}h9l-4.5 5.5z`} fill="#000" />
      <text x={p.x0 + 18} y={p.top + 14} fontFamily={FONT} fontSize={11.3} fill="#000">{p.title}</text>
      {p.clockAt && <text x={p.clockAt[0]} y={p.clockAt[1]} fontFamily={FONT} fontSize={18} fill="#a0a0a0">10:00</text>}
      {p.subLabels.map(([t, i]) => (
        <text key={t} x={x(i)} y={p.subTop + 13} fontFamily={FONT} fontSize={12.5} fill="#808080">{t}</text>
      ))}
      {p.timeLabels.map((t, i) => (
        <g key={t}>
          <line x1={px(i * 12)} x2={px(i * 12)} y1={p.subBottom} y2={p.subBottom + 3} stroke="#000" shapeRendering="crispEdges" />
          <text x={x(i * 12) - 1} y={p.subBottom + 16} {...timeFont} fill="#000">{t}</text>
        </g>
      ))}
      {p.ticks.map(t => {
        const v = Number(t);
        return (
          <g key={t}>
            <line x1={p.x1} x2={p.x1 + 4} y1={Math.round(y(v)) + 0.5} y2={Math.round(y(v)) + 0.5} stroke="#000" shapeRendering="crispEdges" />
            <text x={axisX} y={y(v) + 4.5} {...tickFont} fill="#000">{t}</text>
          </g>
        );
      })}
      <text x={p.x1 + 4} y={p.subTop + 12} {...tickFont} fill="#000">2</text>
      <text x={p.x1 + 4} y={p.subTop + 18.5} {...tickFont} fill="#000">0</text>
      <text x={p.x1 + 6} y={p.subTop + 18.5} {...tickFont} fill="#000">100</text>
      <line x1={p.x1} x2={p.x1 + 3} y1={p.subTop + 1.5} y2={p.subTop + 1.5} stroke="#000" />
      <line x1={p.x1} x2={p.x1 + 3} y1={p.subTop + 14.5} y2={p.subTop + 14.5} stroke="#000" />
      {labelOrder.filter(l => p.levels.includes(l)).map(l => {
        const yy = Math.round(y(l));
        return (
          <g key={l}>
            <rect x={p.x1 + 2} y={yy - 7} width={56} height={14} fill={levelStyle[l].fill} />
            <text x={axisX} y={yy + 5} {...tickFont} fontSize={12.9} fill="#fff">{l.toFixed(2)}</text>
          </g>
        );
      })}
      <rect x={p.x1 - 15} y={p.bottom - 15} width={15} height={15} fill="url(#greenBtn)" />
      <rect x={p.x1 - 10.5} y={p.bottom - 8} width={5} height={1.4} fill="#fff" />
    </g>
  );
}

export default function App() {
  const h1 = panels[0];
  const h1x = d3.scaleLinear().domain([0, 1]).range([h1.firstX, h1.firstX + 8]);
  const h1y = d3.scaleLinear().domain(h1.yPrices).range(h1.yPix);
  const boxLeft = h1x(57) - 0.5, boxRight = 622.5, boxTop = h1y(4383.5), boxBottom = h1y(4305);
  const corners: [number, number][] = [[692, 0], [1415, 0], [692, 437], [1415, 437]];
  return (
    <svg width={1912} height={875} viewBox="0 0 1912 875" style={{ position: "absolute", left: 0, top: 0, display: "block" }}>
      <defs>
        <linearGradient id="frameIdle" x1="0" x2="0" y1="0" y2="1">
          <stop offset="0" stopColor="#bccddd" /><stop offset="0.09" stopColor="#cddbe8" /><stop offset="1" stopColor="#d9e5f1" />
        </linearGradient>
        <linearGradient id="frameActive" x1="0" x2="0" y1="0" y2="1">
          <stop offset="0" stopColor="#94b3d6" /><stop offset="0.09" stopColor="#b3cae2" /><stop offset="1" stopColor="#bfd4ea" />
        </linearGradient>
        <linearGradient id="btn" x1="0" x2="0" y1="0" y2="1">
          <stop offset="0" stopColor="#c9d7e4" /><stop offset="1" stopColor="#bdcddd" />
        </linearGradient>
        <linearGradient id="btnActive" x1="0" x2="0" y1="0" y2="1">
          <stop offset="0" stopColor="#c0d4e8" /><stop offset="0.5" stopColor="#b4cbe3" /><stop offset="0.5" stopColor="#94b1cf" /><stop offset="1" stopColor="#a5bfda" />
        </linearGradient>
        <linearGradient id="closeRed" x1="0" x2="0" y1="0" y2="1">
          <stop offset="0" stopColor="#dc7a6c" /><stop offset="0.5" stopColor="#d2695a" /><stop offset="0.5" stopColor="#b8402c" /><stop offset="1" stopColor="#c25540" />
        </linearGradient>
        <linearGradient id="greenBtn" x1="0" x2="0" y1="0" y2="1">
          <stop offset="0" stopColor="#0a9a0a" /><stop offset="1" stopColor="#006400" />
        </linearGradient>
        <filter id="boxShadow" x="-10%" y="-10%" width="120%" height="120%">
          <feDropShadow dx="0" dy="0" stdDeviation="2.2" floodColor="#555" floodOpacity="0.55" />
        </filter>
      </defs>
      <rect width={1912} height={875} fill="#cfd8e0" />
      {panels.map((p, i) => <WindowFrame key={i} p={p} />)}
      {corners.map(([cx, cy], i) => <path key={i} d={`M${cx - 4} ${cy}h8l-4 5z`} fill="#8a8f95" />)}
      {panels.map((p, i) => <Chart key={i} p={p} id={i} />)}
      <rect x={boxLeft} y={boxTop} width={boxRight - boxLeft} height={boxBottom - boxTop} rx={5} fill="none" stroke="#92d050" strokeWidth={3.6} filter="url(#boxShadow)" />
      <text x={708} y={515} fontFamily="'Noto Sans CJK JP', sans-serif" fontSize={16} fill={COL.pink} textLength={226} xmlSpace="preserve">{countdownText}</text>
      <g>
        <rect x={1465} y={58} width={32} height={17} fill="#a8a8a8" opacity={0.85} />
        <text x={1481} y={71} textAnchor="middle" fontFamily={FONT} fontSize={14} fill="#8a8a8a">Y1</text>
        <rect x={1466} y={75} width={15} height={12.5} fill="#c0c0c0" />
        <rect x={1482} y={75} width={15} height={12.5} fill="#c0c0c0" />
        <path d="M1468 76h11l-5.5 9z" fill="#000" />
        <path d="M1484 85h11l-5.5-9z" fill="#000" />
      </g>
    </svg>
  );
}
